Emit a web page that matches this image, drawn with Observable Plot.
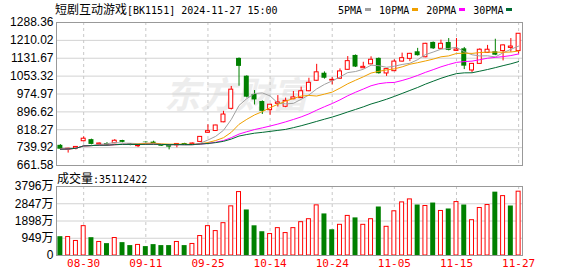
<!DOCTYPE html>
<html><head><meta charset="utf-8">
<script src="https://cdn.jsdelivr.net/npm/d3@7"></script>
<script src="https://cdn.jsdelivr.net/npm/@observablehq/plot@0.6"></script>
<style>
body{margin:0;background:#fff;}
#wrap{position:relative;width:578px;height:276px;overflow:hidden;background:#fff;}
.abs{position:absolute;white-space:nowrap;}
.cjk{font-family:"Noto Sans CJK SC";font-size:12px;}
.mono{font-family:"DejaVu Sans Mono";font-size:10px;}
.sw{display:inline-block;width:6px;height:3px;margin:0 8px 2px 3px;vertical-align:middle;}
</style></head><body>
<div id="wrap">
  <div class="abs" id="price" style="left:0;top:0"></div>
  <div class="abs" id="vol" style="left:0;top:178px"></div>
  <div class="abs" id="title" style="left:55px;top:0;line-height:17px;color:#000"></div>
  <div class="abs" id="legend" style="left:338px;top:0;line-height:18px;color:#000"></div>
  <div class="abs" id="vlabel" style="left:57px;top:169px;line-height:17px;color:#000"></div>
</div>
<script>
// ---- data ----
const dates = ["2024-08-27","2024-08-28","2024-08-29","2024-08-30","2024-09-02","2024-09-03","2024-09-04","2024-09-05","2024-09-06","2024-09-09",
"2024-09-10","2024-09-11","2024-09-12","2024-09-13","2024-09-18","2024-09-19","2024-09-20","2024-09-23","2024-09-24","2024-09-25",
"2024-09-26","2024-09-27","2024-09-30","2024-10-08","2024-10-09","2024-10-10","2024-10-11","2024-10-14","2024-10-15","2024-10-16",
"2024-10-17","2024-10-18","2024-10-21","2024-10-22","2024-10-23","2024-10-24","2024-10-25","2024-10-28","2024-10-29","2024-10-30",
"2024-10-31","2024-11-01","2024-11-04","2024-11-05","2024-11-06","2024-11-07","2024-11-08","2024-11-11","2024-11-12","2024-11-13",
"2024-11-14","2024-11-15","2024-11-18","2024-11-19","2024-11-20","2024-11-21","2024-11-22","2024-11-25","2024-11-26","2024-11-27"];
const opens  = [750,731,736,768,775,753,758,759,771,757, 746,764,764,752,750,750,758,753,765,805, 813,851,910,1131,1053,973,942,904,932,919,
                952,957,987,1033,1066,1034,1042,1081,1144,1088, 1105,1131,1065,1075,1117,1129,1160,1136,1201,1173, 1201,1164,1173,1078,1107,1155,1160,1163,1177,1163];
const highs  = [753,737,744,787,777,760,762,775,772,758, 752,765,768,753,752,757,759,760,788,840, 838,899,1008,1133,1055,990,945,930,968,957,
                986,1005,1044,1105,1072,1047,1085,1139,1146,1114, 1138,1133,1086,1125,1154,1153,1175,1197,1203,1211, 1218,1218,1179,1109,1173,1188,1215,1190,1218,1240];
const lows   = [731,716,730,765,752,752,749,757,761,748, 740,760,757,745,730,739,752,752,763,803, 812,849,905,1009,958,927,885,882,918,915,
                950,955,985,1031,1040,1015,1040,1079,1091,1086, 1103,1062,1052,1073,1115,1117,1141,1134,1170,1171, 1164,1162,1082,1068,1105,1153,1143,1120,1158,1150];
const closes = [733,735,743,779,754,758,751,770,763,753, 750,762,758,746,742,756,753,758,787,812, 837,885,994,1096,961,949,899,928,938,945,
                960,987,1024,1070,1044,1037,1074,1119,1093,1094, 1125,1064,1084,1117,1132,1151,1143,1195,1173,1195, 1166,1170,1097,1107,1169,1169,1145,1188,1183,1239];
// volume in 万
const volumes = [1035,1016,799,1615,980,744,653,962,708,545, 581,490,599,545,545,744,545,635,1071,1615, 1343,1779,2704,3490,2505,1634,1307,1180,1506,1234,
                 1506,1833,1997,2759,2287,1416,1688,2178,2069,1688, 1997,2668,1579,2432,2922,3086,2777,2723,2886,2450, 2559,2940,2777,1942,2614,2777,3485,3267,2723,3511];
const volDir = ["down","up","up","up","down","up","down","up","down","down",
                "up","down","down","down","down","up","down","up","up","up",
                "up","up","up","up","down","down","down","up","up","up",
                "up","up","up","up","down","down","up","up","down","up",
                "up","down","up","up","up","up","down","up","down","up",
                "down","up","down","up","up","up","down","up","down","up"];
const priceTicks = [661.58,739.92,818.27,896.62,974.97,1053.32,1131.67,1210.02,1288.36];
const volTicks = [0,949,1898,2847,3796];
const labelIdx = [3,11,19,27,35,43,51,59];
const maNames = ["5PMA","10PMA","20PMA","30PMA"];
const maWindows = [5,10,20,30];
const maColors = ["#a0a0a0","#f0a000","#ff00ff","#006b33"];
const lastVolume = "35112422";
const titleName = "短剧互动游戏";
const titleCode = "[BK1151] 2024-11-27 15:00";

const RED = "#ff0000", GREEN = "#008000";
const cand = dates.map((d,i)=>({i, date:d, open:opens[i], high:highs[i], low:lows[i], close:closes[i], up: closes[i] >= opens[i]}));
const vols = dates.map((d,i)=>({i, v: volumes[i], up: volDir[i] === "up"}));
const HW = 0.32;

// ---- price chart ----
const price = Plot.plot({
  width: 578, height: 175,
  marginTop: 22, marginBottom: 10, marginLeft: 56, marginRight: 56,
  style: {background: "transparent", fontFamily: "Liberation Sans", fontSize: "12px", color: "#000", overflow: "visible"},
  x: {type: "linear", domain: [-0.5, dates.length - 0.5], axis: null},
  y: {domain: [priceTicks[0], priceTicks[priceTicks.length-1]], ticks: priceTicks, tickFormat: d => d.toFixed(2), tickSize: 0, tickPadding: 3, label: null},
  color: {type: "identity"},
  marks: [
    Plot.ruleY(priceTicks.slice(1, -1), {stroke: "#d2d2d2"}),
    Plot.ruleX(labelIdx, {stroke: "#c8c8c8", strokeDasharray: "3,3"}),
    Plot.ruleX(cand, {x: "i", y1: "low", y2: "high", stroke: d => d.up ? RED : GREEN}),
    Plot.rect(cand.filter(d => d.up), {x1: d => d.i - HW, x2: d => d.i + HW, y1: "open", y2: "close", fill: "white", stroke: RED, insetLeft: 0.5, insetRight: 0.5}),
    Plot.rect(cand.filter(d => !d.up), {x1: d => d.i - HW, x2: d => d.i + HW, y1: "open", y2: "close", fill: GREEN}),
    ...maWindows.map((k, j) => Plot.lineY(cand, Plot.windowY({k, anchor: "end", strict: false, reduce: "mean"}, {x: "i", y: "close", stroke: maColors[j], strokeWidth: 1}))),
    Plot.frame({stroke: "#999"})
  ]
});
document.getElementById("price").appendChild(price);

// watermark
d3.select(price).insert("text", ":first-child")
  .attr("x", 236).attr("y", 108)
  .attr("font-family", "Noto Sans CJK SC").attr("font-weight", "bold").attr("font-size", 36)
  .attr("font-style", "italic")
  .attr("fill", "#ededed").text("东方财富");

// ---- volume chart ----
const vol = Plot.plot({
  width: 578, height: 98,
  marginTop: 8, marginBottom: 21, marginLeft: 56, marginRight: 56,
  style: {background: "transparent", fontFamily: "Liberation Sans, Noto Sans CJK SC", fontSize: "12px", color: "#000"},
  x: {type: "linear", domain: [-0.5, dates.length - 0.5], axis: null},
  y: {domain: [0, volTicks[volTicks.length-1]], ticks: volTicks, tickFormat: d => d === 0 ? "0" : d + "万", tickSize: 0, tickPadding: 3, label: null},
  color: {type: "identity"},
  marks: [
    Plot.ruleY(volTicks.slice(1, -1), {stroke: "#d2d2d2"}),
    Plot.ruleX(labelIdx, {stroke: "#c8c8c8", strokeDasharray: "3,3"}),
    Plot.rect(vols.filter(d => d.up), {x1: d => d.i - HW, x2: d => d.i + HW, y1: 0, y2: "v", fill: "white", stroke: RED, insetLeft: 0.5, insetRight: 0.5}),
    Plot.rect(vols.filter(d => !d.up), {x1: d => d.i - HW, x2: d => d.i + HW, y1: 0, y2: "v", fill: GREEN}),
    Plot.frame({stroke: "#999"}),
    Plot.text(labelIdx, {x: d => d, frameAnchor: "bottom", dy: 11, text: d => dates[d].slice(5), fill: RED, fontFamily: "DejaVu Sans Mono", fontSize: 11})
  ]
});
document.getElementById("vol").appendChild(vol);

// ---- texts ----
document.getElementById("title").innerHTML = `<span class="cjk">${titleName}</span><span class="mono">${titleCode}</span>`;
document.getElementById("legend").innerHTML = maNames.map((n, j) => `<span class="mono">${n}</span><span class="sw" style="background:${maColors[j]}"></span>`).join("");
document.getElementById("vlabel").innerHTML = `<span class="cjk">成交量</span><span class="mono">:${lastVolume}</span>`;
</script>
</body></html>
